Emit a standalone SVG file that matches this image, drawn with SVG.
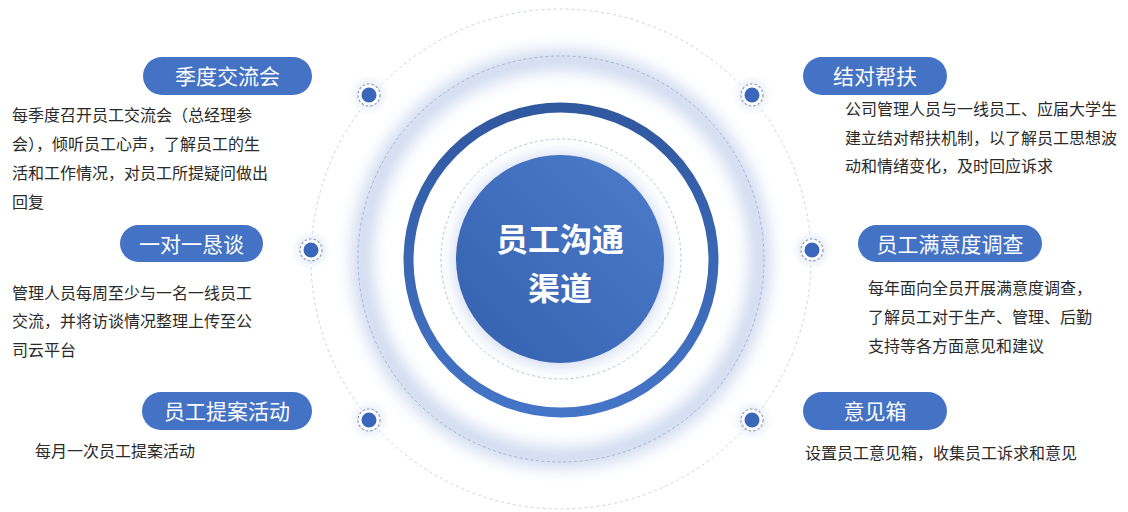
<svg xmlns="http://www.w3.org/2000/svg" width="1128" height="512" viewBox="0 0 1128 512">
  <defs>
    <linearGradient id="coreGrad" x1="1" y1="0" x2="0" y2="1">
      <stop offset="0" stop-color="#4d7ccb"/>
      <stop offset="1" stop-color="#3461ae"/>
    </linearGradient>
    <linearGradient id="ringGrad" x1="0" y1="0" x2="0" y2="1">
      <stop offset="0" stop-color="#30589f"/>
      <stop offset="1" stop-color="#4575c7"/>
    </linearGradient>
    <filter id="blur8" x="-30%" y="-30%" width="160%" height="160%">
      <feGaussianBlur stdDeviation="8"/>
    </filter>
    <filter id="blur4" x="-50%" y="-50%" width="200%" height="200%">
      <feGaussianBlur stdDeviation="4"/>
    </filter>
    <style>
      .pill { fill: #4472c4; }
      .pill-text { font-family: "Noto Sans CJK SC", "Noto Sans", sans-serif; font-size: 21px; fill: #ffffff; text-anchor: middle; }
      .body { font-family: "Noto Sans CJK SC", "Noto Sans", sans-serif; font-size: 16px; fill: #2a2a2a; }
      .dot-ring { fill: #ffffff; stroke: #8e9cb8; stroke-width: 1.2; stroke-dasharray: 2.5 2; }
      .dot { fill: #3a67b9; }
      .dash-ring { fill: none; stroke: #a9b6cf; stroke-width: 1; stroke-dasharray: 3 2.5; }
      .core-text { font-family: "Noto Sans CJK SC", "Noto Sans", sans-serif; font-size: 32px; font-weight: bold; fill: #ffffff; text-anchor: middle; }
    </style>
  </defs>

  <rect width="1128" height="512" fill="#ffffff"/>

  <g id="rings">
    <circle cx="561" cy="259" r="250" fill="none" stroke="#c4cde0" stroke-width="0.9" stroke-dasharray="3 3"/>
    <circle cx="561" cy="259" r="199" fill="none" stroke="#cdd8f0" stroke-width="20" filter="url(#blur8)"/>
    <circle cx="561" cy="259" r="203" class="dash-ring"/>
    <circle cx="561" cy="260" r="152.5" fill="none" stroke="url(#ringGrad)" stroke-width="10"/>
    <circle cx="561" cy="259" r="120" fill="none" stroke="#b4bccd" stroke-width="0.9" stroke-dasharray="3 2.5"/>
  </g>

  <g id="core">
    <circle cx="560" cy="260" r="106" fill="#c9d4ee" filter="url(#blur8)" opacity="0.9"/>
    <circle cx="560" cy="259" r="104" fill="url(#coreGrad)"/>
    <text class="core-text" x="560" y="251">员工沟通</text>
    <text class="core-text" x="560" y="300">渠道</text>
  </g>

  <g id="node-jidu">
    <circle cx="369" cy="95" r="14" fill="#e3e9f6" filter="url(#blur4)"/>
    <circle cx="369" cy="95" r="11" class="dot-ring"/>
    <circle cx="369" cy="95" r="7.5" class="dot"/>
    <rect class="pill" x="143" y="57" width="169" height="38" rx="19"/>
    <text class="pill-text" x="227.5" y="84">季度交流会</text>
    <text class="body" x="12" y="121">每季度召开员工交流会（总经理参</text>
    <text class="body" x="12" y="150">会），倾听员工心声，了解员工的生</text>
    <text class="body" x="12" y="179">活和工作情况，对员工所提疑问做出</text>
    <text class="body" x="12" y="208">回复</text>
  </g>

  <g id="node-yiduiyi">
    <circle cx="311" cy="250" r="14" fill="#e3e9f6" filter="url(#blur4)"/>
    <circle cx="311" cy="250" r="11" class="dot-ring"/>
    <circle cx="311" cy="250" r="7.5" class="dot"/>
    <rect class="pill" x="120" y="225" width="143" height="37" rx="18.5"/>
    <text class="pill-text" x="191.5" y="251.5">一对一恳谈</text>
    <text class="body" x="12" y="298.5">管理人员每周至少与一名一线员工</text>
    <text class="body" x="12" y="327">交流，并将访谈情况整理上传至公</text>
    <text class="body" x="12" y="356">司云平台</text>
  </g>

  <g id="node-tian">
    <circle cx="369" cy="420" r="14" fill="#e3e9f6" filter="url(#blur4)"/>
    <circle cx="369" cy="420" r="11" class="dot-ring"/>
    <circle cx="369" cy="420" r="7.5" class="dot"/>
    <rect class="pill" x="142" y="392" width="170" height="38" rx="19"/>
    <text class="pill-text" x="227" y="419">员工提案活动</text>
    <text class="body" x="35" y="457">每月一次员工提案活动</text>
  </g>

  <g id="node-jiedui">
    <circle cx="752" cy="95" r="14" fill="#e3e9f6" filter="url(#blur4)"/>
    <circle cx="752" cy="95" r="11" class="dot-ring"/>
    <circle cx="752" cy="95" r="7.5" class="dot"/>
    <rect class="pill" x="803" y="57" width="144" height="38" rx="19"/>
    <text class="pill-text" x="875" y="84">结对帮扶</text>
    <text class="body" x="845" y="115">公司管理人员与一线员工、应届大学生</text>
    <text class="body" x="845" y="143.5">建立结对帮扶机制，以了解员工思想波</text>
    <text class="body" x="845" y="172">动和情绪变化，及时回应诉求</text>
  </g>

  <g id="node-manyidu">
    <circle cx="812" cy="250" r="14" fill="#e3e9f6" filter="url(#blur4)"/>
    <circle cx="812" cy="250" r="11" class="dot-ring"/>
    <circle cx="812" cy="250" r="7.5" class="dot"/>
    <rect class="pill" x="858" y="225" width="184" height="37" rx="18.5"/>
    <text class="pill-text" x="950" y="251.5">员工满意度调查</text>
    <text class="body" x="868" y="294">每年面向全员开展满意度调查，</text>
    <text class="body" x="868" y="323">了解员工对于生产、管理、后勤</text>
    <text class="body" x="868" y="352">支持等各方面意见和建议</text>
  </g>

  <g id="node-yijianxiang">
    <circle cx="752" cy="420" r="14" fill="#e3e9f6" filter="url(#blur4)"/>
    <circle cx="752" cy="420" r="11" class="dot-ring"/>
    <circle cx="752" cy="420" r="7.5" class="dot"/>
    <rect class="pill" x="803" y="392" width="144" height="38" rx="19"/>
    <text class="pill-text" x="875" y="419">意见箱</text>
    <text class="body" x="805" y="459">设置员工意见箱，收集员工诉求和意见</text>
  </g>
</svg>
